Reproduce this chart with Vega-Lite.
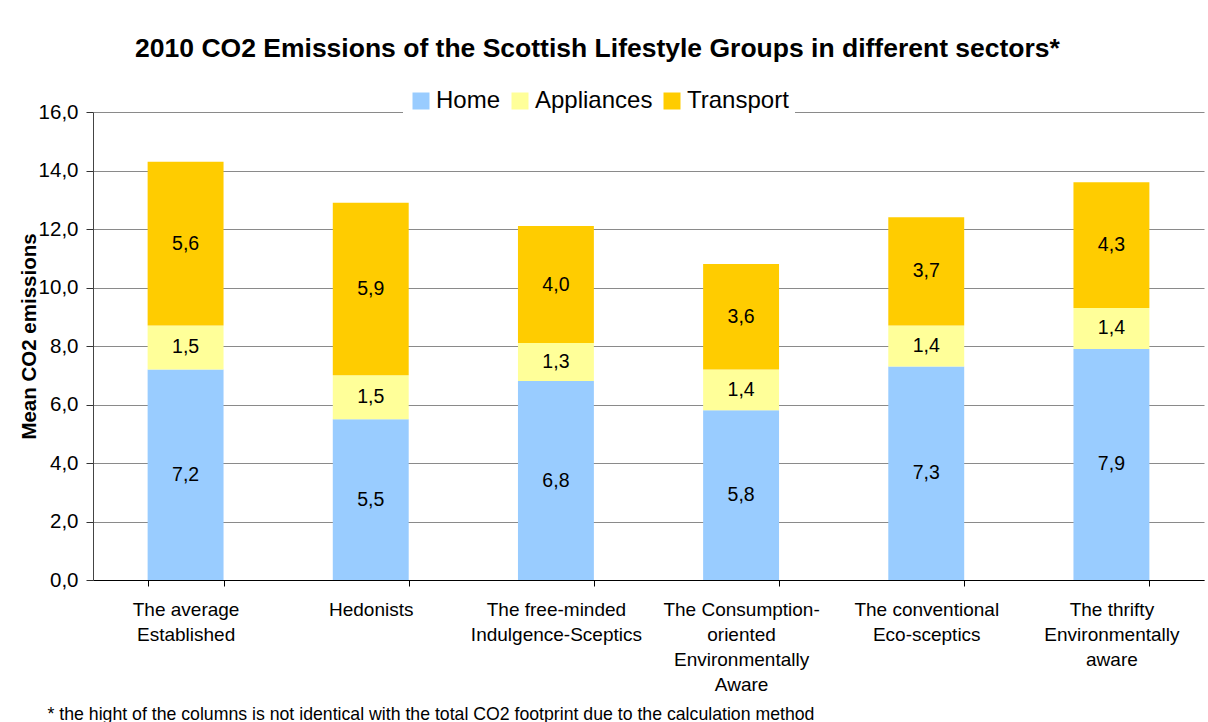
{
  "$schema": "https://vega.github.io/schema/vega-lite/v6.json",
  "width": 1111,
  "height": 468,
  "autosize": {"type": "none"},
  "padding": {"left": 93, "top": 112, "right": 4, "bottom": 142},
  "background": "white",
  "config": {
    "locale": {"number": {"decimal": ",", "thousands": ".", "grouping": [3], "currency": ["", "€"]}},
    "view": {"stroke": null},
    "font": "Liberation Sans"
  },
  "title": {
    "text": "2010 CO2 Emissions of the Scottish Lifestyle Groups in different sectors*",
    "fontSize": 26.5,
    "fontWeight": "bold",
    "anchor": "middle",
    "offset": 21,
    "dx": -51,
    "color": "black",
    "font": "Liberation Sans"
  },
  "data": {
    "values": [
      {"group": "The average|Established", "sector": "Home", "value": 7.2, "o": 1},
      {"group": "The average|Established", "sector": "Appliances", "value": 1.5, "o": 2},
      {"group": "The average|Established", "sector": "Transport", "value": 5.6, "o": 3},
      {"group": "Hedonists", "sector": "Home", "value": 5.5, "o": 1},
      {"group": "Hedonists", "sector": "Appliances", "value": 1.5, "o": 2},
      {"group": "Hedonists", "sector": "Transport", "value": 5.9, "o": 3},
      {"group": "The free-minded|Indulgence-Sceptics", "sector": "Home", "value": 6.8, "o": 1},
      {"group": "The free-minded|Indulgence-Sceptics", "sector": "Appliances", "value": 1.3, "o": 2},
      {"group": "The free-minded|Indulgence-Sceptics", "sector": "Transport", "value": 4.0, "o": 3},
      {"group": "The Consumption-|oriented|Environmentally|Aware", "sector": "Home", "value": 5.8, "o": 1},
      {"group": "The Consumption-|oriented|Environmentally|Aware", "sector": "Appliances", "value": 1.4, "o": 2},
      {"group": "The Consumption-|oriented|Environmentally|Aware", "sector": "Transport", "value": 3.6, "o": 3},
      {"group": "The conventional|Eco-sceptics", "sector": "Home", "value": 7.3, "o": 1},
      {"group": "The conventional|Eco-sceptics", "sector": "Appliances", "value": 1.4, "o": 2},
      {"group": "The conventional|Eco-sceptics", "sector": "Transport", "value": 3.7, "o": 3},
      {"group": "The thrifty|Environmentally|aware", "sector": "Home", "value": 7.9, "o": 1},
      {"group": "The thrifty|Environmentally|aware", "sector": "Appliances", "value": 1.4, "o": 2},
      {"group": "The thrifty|Environmentally|aware", "sector": "Transport", "value": 4.3, "o": 3}
    ]
  },
  "transform": [
    {"stack": "value", "groupby": ["group"], "sort": [{"field": "o", "order": "ascending"}], "as": ["v0", "v1"]},
    {"calculate": "(datum.v0 + datum.v1) / 2", "as": "mid"}
  ],
  "encoding": {
    "x": {
      "field": "group",
      "type": "nominal",
      "sort": null,
      "scale": {"paddingInner": 0.59, "paddingOuter": 0.295},
      "axis": {
        "tickBand": "extent",
        "labelExpr": "split(datum.label, '|')",
        "labelAngle": 0,
        "labelFontSize": 19,
        "labelLineHeight": 25,
        "labelPadding": 14,
        "labelColor": "black",
        "labelFont": "Liberation Sans",
        "labelBaseline": "top",
        "tickSize": 6,
        "tickColor": "black",
        "domainColor": "black",
        "title": "* the hight of the columns is not identical with the total CO2 footprint due to the calculation method",
        "titleAnchor": "start",
        "titleAlign": "left",
        "titleX": -46,
        "titleY": 139,
        "titleBaseline": "alphabetic",
        "titleFontSize": 17.7,
        "titleFontWeight": "normal",
        "titleColor": "black",
        "titleFont": "Liberation Sans"
      }
    }
  },
  "layer": [
    {
      "mark": {"type": "bar"},
      "encoding": {
        "y": {
          "field": "v0",
          "type": "quantitative",
          "scale": {"domain": [0, 16], "nice": false},
          "axis": {
            "values": [0, 2, 4, 6, 8, 10, 12, 14, 16],
            "format": ".1f",
            "labelFontSize": 20.5,
            "labelColor": "black",
            "labelPadding": 8,
            "labelFont": "Liberation Sans",
            "tickSize": 7,
            "tickColor": "#333",
            "domainColor": "#444",
            "gridColor": "#8a8a8a",
            "grid": true,
            "title": "Mean CO2 emissions",
            "titleFontSize": 20.5,
            "titleFontWeight": "bold",
            "titleColor": "black",
            "titleX": -54,
            "titleY": 224,
            "titleBaseline": "bottom",
            "titleFont": "Liberation Sans"
          }
        },
        "y2": {"field": "v1"},
        "color": {
          "field": "sector",
          "type": "nominal",
          "scale": {"domain": ["Home", "Appliances", "Transport"], "range": ["#99CCFF", "#FFFF99", "#FFCC00"]},
          "legend": {
            "orient": "none",
            "legendX": 310,
            "legendY": -29,
            "direction": "horizontal",
            "title": null,
            "fillColor": "white",
            "padding": 6,
            "symbolType": "square",
            "symbolSize": 289,
            "symbolStrokeWidth": 0,
            "symbolOpacity": 1,
            "labelFontSize": 24,
            "labelColor": "black",
            "labelFont": "Liberation Sans",
            "columnPadding": 7,
            "labelOffset": 3
          }
        }
      }
    },
    {
      "mark": {"type": "text", "fontSize": 19.5, "color": "black", "font": "Liberation Sans"},
      "encoding": {
        "y": {"field": "mid", "type": "quantitative"},
        "text": {"field": "value", "type": "quantitative", "format": ".1f"}
      }
    }
  ]
}
